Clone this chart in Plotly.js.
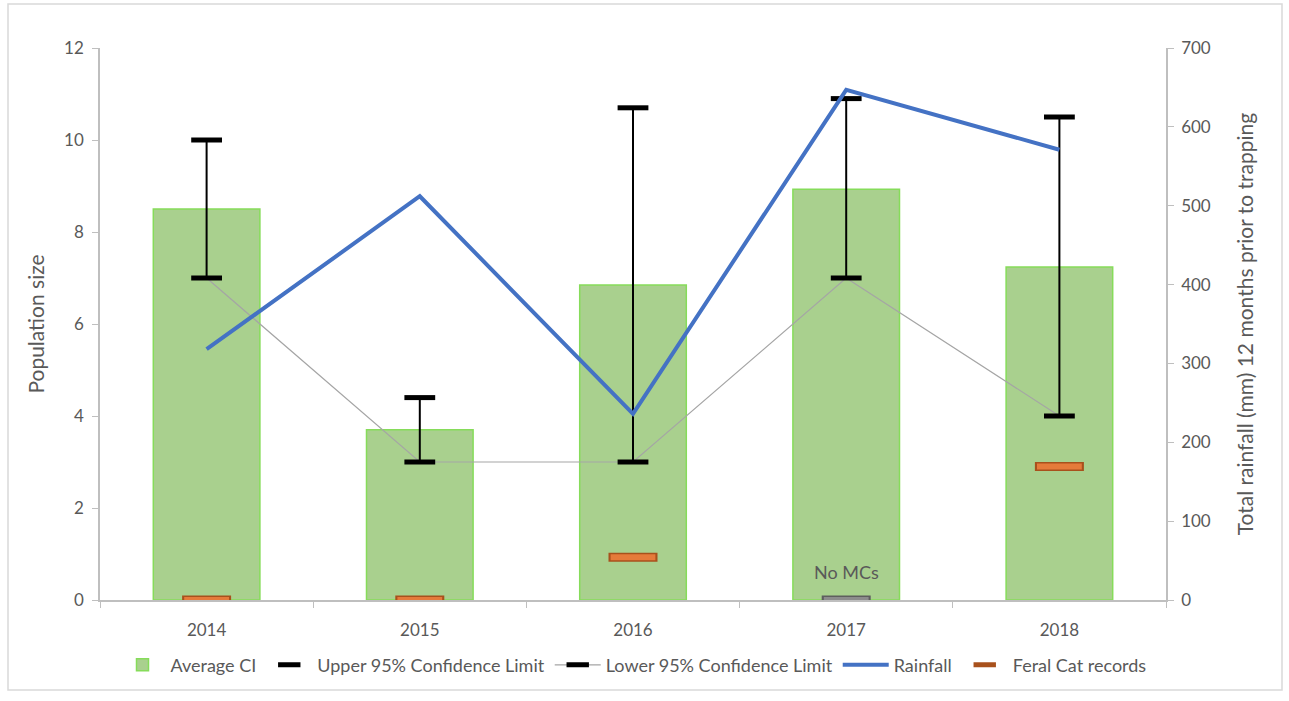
<!DOCTYPE html>
<html>
<head>
<meta charset="utf-8">
<script src="https://cdn.plot.ly/plotly-3.0.1.min.js"></script>
<style>
html,body{margin:0;padding:0;background:#fff;}
#chart{width:1289px;height:701px;}
</style>
</head>
<body>
<div id="chart"></div>
<script>
const years = [2014, 2015, 2016, 2017, 2018];
const averageCI = [8.5, 3.7, 6.85, 8.93, 7.24];
const upperCL = [10, 4.4, 10.7, 10.9, 10.5];
const lowerCL = [7, 3, 3, 7, 4];
const rainfall = [318, 512, 236, 647, 571];
const feralCat = [0, 0, 0.93, 0, 2.9];
const feralColors = ["#E57B3A", "#E57B3A", "#E57B3A", "#8C8C8C", "#E57B3A"];
const feralBorders = ["#A8511C", "#A8511C", "#A8511C", "#5E5E5E", "#A8511C"];
const yLeftTicks = [0, 2, 4, 6, 8, 10, 12];
const yRightTicks = [0, 100, 200, 300, 400, 500, 600, 700];

const font = "Lato, 'Open Sans', sans-serif";
const grey = "#595959";

const traces = [
  {
    type: "bar", name: "Average CI", x: years, y: averageCI, width: 0.5,
    marker: {color: "#A9D08E", line: {color: "#86DC5A", width: 1.5}}
  },
  {
    type: "scatter", mode: "markers", name: "Upper 95% Confidence Limit",
    x: years, y: upperCL,
    marker: {symbol: "line-ew-open", size: 22, color: "#000", line: {width: 5}}
  },
  {
    type: "scatter", mode: "lines+markers", name: "Lower 95% Confidence Limit",
    x: years, y: lowerCL,
    line: {color: "#A5A5A5", width: 1.2},
    marker: {symbol: "line-ew-open", size: 22, color: "#000", line: {width: 5}},
    error_y: {
      type: "data", symmetric: false,
      array: upperCL.map((u, i) => u - lowerCL[i]),
      arrayminus: lowerCL.map(() => 0),
      color: "#000", thickness: 2, width: 0
    }
  },
  {
    type: "scatter", mode: "lines", name: "Rainfall", x: years, y: rainfall, yaxis: "y2",
    line: {color: "#4472C4", width: 4}
  },
  {
    type: "scatter", mode: "markers", name: "Feral Cat records", x: years, y: feralCat,
    marker: {symbol: "line-ew-open", size: 35, color: feralBorders, line: {width: 9}}
  },
  {
    type: "scatter", mode: "markers", name: "Feral Cat records", x: years, y: feralCat,
    showlegend: false, hoverinfo: "skip",
    marker: {symbol: "line-ew-open", size: 32, color: feralColors, line: {width: 6}}
  }
];

const layout = {
  width: 1289, height: 701,
  margin: {l: 100, r: 123, t: 48, b: 101},
  paper_bgcolor: "#fff", plot_bgcolor: "#fff",
  font: {family: font, size: 17, color: grey},
  showlegend: true,
  barmode: "overlay",
  legend: {
    orientation: "h", x: 0.5, xanchor: "center", y: -0.118, yanchor: "middle",
    font: {family: font, size: 18, color: grey}, itemwidth: 46, traceorder: "normal"
  },
  xaxis: {
    range: [2013.5, 2018.5], tickvals: years, ticks: "",
    showline: true, linecolor: "#BFBFBF", linewidth: 1.5,
    minor: {ticks: "outside", tick0: 2013.5, dtick: 1, ticklen: 6, tickcolor: "#BFBFBF", showgrid: false},
    showgrid: false, zeroline: false, ticklabelstandoff: 14,
    tickfont: {family: font, size: 17, color: grey}
  },
  yaxis: {
    range: [0, 12], tickvals: yLeftTicks, showline: true, linecolor: "#BFBFBF", linewidth: 1.5,
    ticks: "outside", ticklen: 6, tickcolor: "#BFBFBF", showgrid: false, zeroline: false,
    ticklabelstandoff: 5,
    tickfont: {family: font, size: 17, color: grey},
    title: {text: "Population size", font: {family: font, size: 21, color: grey}, standoff: 14}
  },
  yaxis2: {
    range: [0, 700], tickvals: yRightTicks, overlaying: "y", side: "right",
    showline: true, linecolor: "#BFBFBF", linewidth: 1.5,
    ticks: "outside", ticklen: 6, tickcolor: "#BFBFBF", showgrid: false, zeroline: false,
    ticklabelstandoff: 4,
    tickfont: {family: font, size: 17, color: grey},
    title: {text: "Total rainfall (mm) 12 months prior to trapping", font: {family: font, size: 21, color: grey}, standoff: 28}
  },
  annotations: [
    {x: 2017, y: 0.6, xref: "x", yref: "y", text: "No MCs", showarrow: false,
     font: {family: font, size: 18, color: grey}}
  ],
  shapes: [
    {type: "rect", xref: "paper", yref: "paper",
     x0: -92/1066, x1: 1182/1066, y0: -90/552, y1: 596/552,
     line: {color: "#D9D9D9", width: 1.5}, fillcolor: "rgba(0,0,0,0)", layer: "below"}
  ]
};

Plotly.newPlot("chart", traces, layout, {displayModeBar: false});
</script>
</body>
</html>
